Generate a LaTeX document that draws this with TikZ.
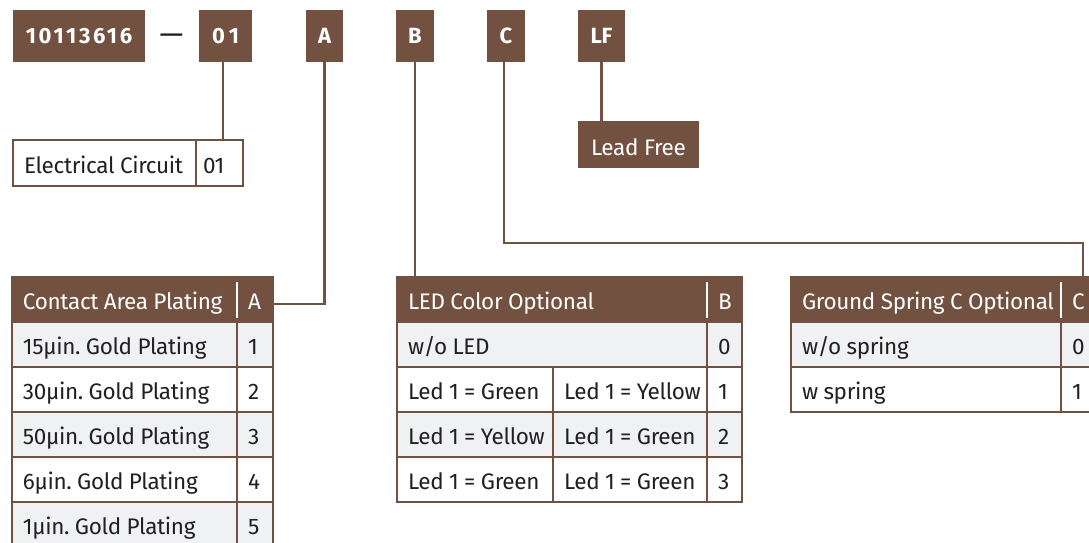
\documentclass[tikz,border=0pt]{standalone}
\usepackage{fontspec}
\setmainfont{Fira Sans}[LetterSpace=-1.5]
\frenchspacing
\definecolor{brn}{HTML}{735141}
\definecolor{rowg}{HTML}{F0F1F3}
\definecolor{ink}{HTML}{231F20}
\tikzset{
  cell/.style={draw=brn, line width=2pt, outer sep=0pt, anchor=north west, inner xsep=11pt, inner ysep=0pt, minimum height=45pt, text height=22pt, text depth=3pt, font=\fontsize{22.5}{24}\selectfont, text=ink, align=left, fill=white, execute at begin node={\spaceskip=0.24em\relax}},
  grey/.style={fill=rowg},
  hdr/.style={fill=brn, text=white},
  code/.style={fill=brn, outer sep=0pt, anchor=north west, inner sep=0pt, minimum height=52pt, text height=18pt, text depth=3.4pt, font=\fontsize{22}{24}\selectfont\bfseries, text=white, align=center},
  conn/.style={draw=brn, line width=2.5pt},
  hsep/.style={draw=white, line width=2.5pt},
}
\begin{document}
\begin{tikzpicture}[x=1pt,y=-1pt]
\useasboundingbox (0,0) rectangle (1089,543);
\clip (0,0) rectangle (1089,543);
\fill[white] (0,0) rectangle (1089,543);

% code boxes
\node[code, minimum width=132pt] (pn) at (13,10) {\addfontfeature{LetterSpace=12}10113616};
\node[anchor=center, inner sep=0pt, text=ink, font=\fontsize{30}{32}\selectfont] (dash) at (171.5,39) {—};
\node[code, minimum width=53pt] (d01) at (199,10) {\addfontfeature{LetterSpace=20}01};
\node[code, minimum width=37pt] (dA) at (306,10) {A};
\node[code, minimum width=38pt] (dB) at (396,10) {B};
\node[code, minimum width=38pt] (dC) at (487,10) {C};
\node[code, minimum width=47pt] (dLF) at (578,10) {LF};

% Lead free
\node[code, font=\fontsize{22.5}{24}\selectfont, minimum width=121pt, minimum height=47pt, text height=24pt, text depth=3pt] (lf) at (578,121) {Lead Free};

% Electrical circuit
\node[cell, minimum height=46pt, text width=161pt, text height=23pt] (ec1) at (13,140) {\mbox{Electrical Circuit}};
\node[cell, minimum height=46pt, inner xsep=7pt, text width=33pt, text height=23pt] (ec2) at (196,140) {01};

% connectors
\draw[conn] ([xshift=-2.5pt]d01.south) -- ([xshift=-2.5pt]d01.south |- ec2.north);
\draw[conn] (dLF.south) -- (dLF.south |- lf.north);

% Table A
\node[cell, hdr, text width=203pt] (hAl) at (12,277) {\mbox{Contact Area Plating}};
\node[cell, hdr, text width=14pt] (hAv) at (237,277) {A};
\node[cell, grey, text width=203pt] (a1l) at (12,322) {\mbox{15µin. Gold Plating}};
\node[cell, grey, text width=14pt] (a1v) at (237,322) {1};
\node[cell, text width=203pt] (a2l) at (12,367) {\mbox{30µin. Gold Plating}};
\node[cell, text width=14pt] (a2v) at (237,367) {2};
\node[cell, grey, text width=203pt] (a3l) at (12,412) {\mbox{50µin. Gold Plating}};
\node[cell, grey, text width=14pt] (a3v) at (237,412) {3};
\node[cell, text width=203pt] (a4l) at (12,457) {\mbox{6µin. Gold Plating}};
\node[cell, text width=14pt] (a4v) at (237,457) {4};
\node[cell, grey, text width=203pt] (a5l) at (12,502) {\mbox{1µin. Gold Plating}};
\node[cell, grey, text width=14pt] (a5v) at (237,502) {5};
\draw[hsep] ([yshift=-5pt]hAl.north east) -- ([yshift=4pt]hAl.south east);

% Table B
\node[cell, hdr, text width=288pt] (hBl) at (397,277) {\mbox{LED Color Optional}};
\node[cell, hdr, text width=13pt] (hBv) at (707,277) {B};
\node[cell, grey, text width=288pt] (b0l) at (397,322) {\mbox{w/o LED}};
\node[cell, grey, text width=13pt] (b0v) at (707,322) {0};
\node[cell, text width=134pt] (b1l) at (397,367) {\mbox{Led 1 = Green}};
\node[cell, text width=132pt] (b1m) at (553,367) {\mbox{Led 1 = Yellow}};
\node[cell, text width=13pt] (b1v) at (707,367) {1};
\node[cell, grey, text width=134pt] (b2l) at (397,412) {\mbox{Led 1 = Yellow}};
\node[cell, grey, text width=132pt] (b2m) at (553,412) {\mbox{Led 1 = Green}};
\node[cell, grey, text width=13pt] (b2v) at (707,412) {2};
\node[cell, text width=134pt] (b3l) at (397,457) {\mbox{Led 1 = Green}};
\node[cell, text width=132pt] (b3m) at (553,457) {\mbox{Led 1 = Green}};
\node[cell, text width=13pt] (b3v) at (707,457) {3};
\draw[hsep] ([yshift=-5pt]hBl.north east) -- ([yshift=4pt]hBl.south east);

% Table C
\node[cell, hdr, text width=248pt] (hCl) at (791,277) {\mbox{Ground Spring C Optional}};
\node[cell, hdr, text width=14pt] (hCv) at (1061,277) {C};
\node[cell, grey, text width=248pt] (c0l) at (791,322) {\mbox{w/o spring}};
\node[cell, grey, text width=14pt] (c0v) at (1061,322) {0};
\node[cell, text width=248pt] (c1l) at (791,367) {\mbox{w spring}};
\node[cell, text width=14pt] (c1v) at (1061,367) {1};
\draw[hsep] ([yshift=-5pt]hCl.north east) -- ([yshift=4pt]hCl.south east);

% connectors to tables
\draw[conn] (dA.south) |- ([yshift=-4.5pt]hAv.east);
\draw[conn] (dB.south) -- (dB.south |- hBl.north);
\coordinate (cturn) at (1083,243);
\draw[conn] ([xshift=-2pt]dC.south) |- (cturn) -- (cturn |- hCv.north);
\end{tikzpicture}
\end{document}
